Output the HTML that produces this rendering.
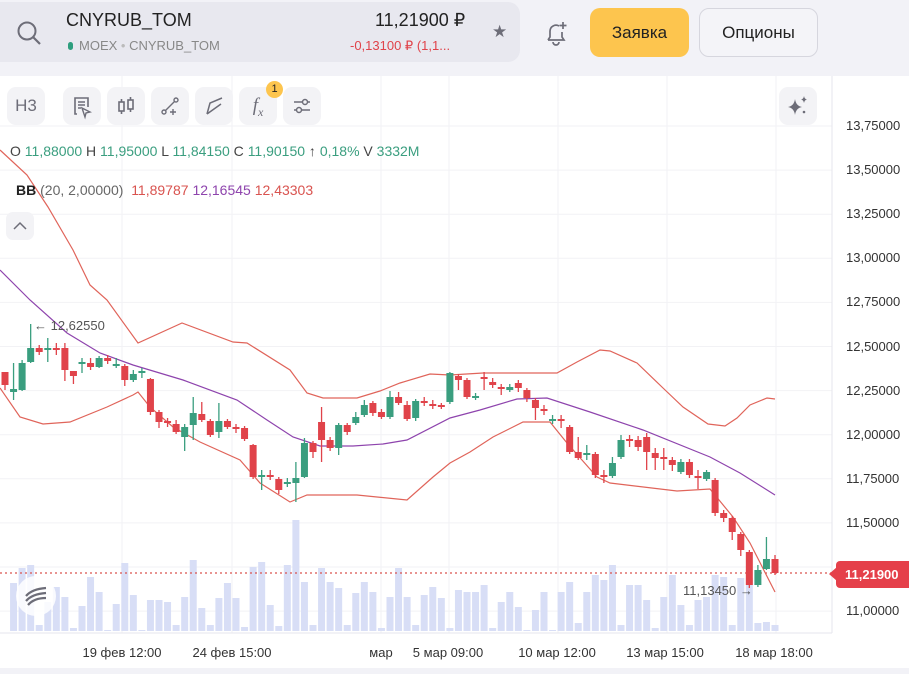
<!DOCTYPE html>
<html><head><meta charset="utf-8"><style>
*{margin:0;padding:0;box-sizing:border-box}
body{width:909px;height:674px;overflow:hidden;background:#fff;font-family:"Liberation Sans",sans-serif;position:relative}
.top{position:absolute;left:0;top:0;width:909px;height:76px;background:#f2f2f7}
.search{position:absolute;left:0;top:2px;width:520px;height:60px;background:#e8e8ef;border-radius:0 12px 12px 0}
.abs{position:absolute;white-space:nowrap}
.tb{position:absolute;top:87px;width:38px;height:38px;background:#f3f3f6;border-radius:9px;color:#6d6d78;font-size:16px;text-align:center;line-height:38px}
.pl{position:absolute;left:846px;font-size:13px;color:#333;}
.xl{position:absolute;top:645px;font-size:13px;color:#333;transform:translateX(-50%)}
</style></head><body>
<div class="top"></div>
<div class="search"></div>
<svg class="abs" style="left:15px;top:19px" width="28" height="28" viewBox="0 0 28 28"><circle cx="12" cy="12" r="8.5" fill="none" stroke="#6d6d78" stroke-width="2"/><line x1="18" y1="18" x2="25" y2="25" stroke="#6d6d78" stroke-width="2.2"/></svg>
<div class="abs" style="left:66px;top:10px;font-size:18px;color:#222">CNYRUB_TOM</div>
<div class="abs" style="left:68px;top:38px;font-size:13px;color:#888"><span style="display:inline-block;width:5px;height:8px;border-radius:3px;background:#2e9e7e;margin-right:6px"></span>MOEX <span style="color:#bbb">•</span> CNYRUB_TOM</div>
<div class="abs" style="left:375px;top:10px;font-size:18px;color:#222">11,21900 ₽</div>
<div class="abs" style="left:350px;top:38px;font-size:13px;color:#e0434a">-0,13100 ₽ (1,1...</div>
<div class="abs" style="left:492px;top:22px;font-size:17px;color:#6d6d78">★</div>
<svg class="abs" style="left:542px;top:19px" width="28" height="28" viewBox="0 0 28 28"><path d="M6 21 L8 18 V12 A6 6 0 0 1 17 7" fill="none" stroke="#6d6d78" stroke-width="1.7"/><path d="M6 21 H22 L20 18 V13" fill="none" stroke="#6d6d78" stroke-width="1.7"/><path d="M11 23 A3 3 0 0 0 17 23" fill="none" stroke="#6d6d78" stroke-width="1.7"/><path d="M21 3 V10 M17.5 6.5 H24.5" stroke="#6d6d78" stroke-width="1.7"/></svg>
<div class="abs" style="left:590px;top:8px;width:99px;height:49px;background:#fdc54e;border-radius:10px;text-align:center;line-height:49px;font-size:17px;color:#222">Заявка</div>
<div class="abs" style="left:699px;top:8px;width:119px;height:49px;background:#f4f4f8;border:1px solid #d6d6de;border-radius:10px;text-align:center;line-height:47px;font-size:17px;color:#222">Опционы</div>

<svg class="abs" style="left:0;top:76px" width="909" height="598">
<g stroke="#f2f2f5" stroke-width="1">
<line x1="122" y1="0" x2="122" y2="557"/><line x1="232" y1="0" x2="232" y2="557"/><line x1="381" y1="0" x2="381" y2="557"/><line x1="449" y1="0" x2="449" y2="557"/><line x1="558" y1="0" x2="558" y2="557"/><line x1="667" y1="0" x2="667" y2="557"/><line x1="776" y1="0" x2="776" y2="557"/>
<g id="hg"></g>
</g>
<line x1="832" y1="0" x2="832" y2="557" stroke="#e6e6ec"/>
<line x1="0" y1="557" x2="832" y2="557" stroke="#e6e6ec"/>
<rect x="0" y="592" width="909" height="6" fill="#f2f2f7"/>
</svg>
<svg class="abs" id="c" style="left:0;top:0" width="832" height="634"></svg>

<div class="tb" style="left:7px;font-size:17px">Н3</div>
<div class="tb" style="left:63px"><svg width="38" height="38" viewBox="0 0 38 38"><path d="M14 27 H12 V11 H25 V20" fill="none" stroke="#6d6d78" stroke-width="1.6"/><path d="M15 15 H22 M15 18 H22 M15 21 H18" stroke="#6d6d78" stroke-width="1.4"/><path d="M19 21 L27 25 L23 26 L22 30 Z" fill="none" stroke="#6d6d78" stroke-width="1.4"/></svg></div>
<div class="tb" style="left:107px"><svg width="38" height="38" viewBox="0 0 38 38"><rect x="12" y="15" width="5" height="9" fill="none" stroke="#6d6d78" stroke-width="1.6"/><rect x="21" y="13" width="5" height="9" fill="none" stroke="#6d6d78" stroke-width="1.6"/><path d="M14.5 12 V15 M14.5 24 V27 M23.5 10 V13 M23.5 22 V25" stroke="#6d6d78" stroke-width="1.6"/></svg></div>
<div class="tb" style="left:151px"><svg width="38" height="38" viewBox="0 0 38 38"><circle cx="13" cy="25" r="2" fill="none" stroke="#6d6d78" stroke-width="1.4"/><circle cx="25" cy="13" r="2" fill="none" stroke="#6d6d78" stroke-width="1.4"/><path d="M14.5 23.5 L23.5 14.5 M22 22 V28 M19 25 H25" stroke="#6d6d78" stroke-width="1.4"/></svg></div>
<div class="tb" style="left:195px"><svg width="38" height="38" viewBox="0 0 38 38"><path d="M12 27 L15 16 L27 11 M12 27 L26 17" fill="none" stroke="#6d6d78" stroke-width="1.5"/></svg></div>
<div class="tb" style="left:239px;font-style:italic;font-family:'Liberation Serif',serif;font-size:19px">f<sub style="font-size:12px">x</sub></div>
<div class="abs" style="left:266px;top:81px;width:17px;height:17px;border-radius:50%;background:#fdc54e;font-size:11px;text-align:center;line-height:17px;color:#222">1</div>
<div class="tb" style="left:283px"><svg width="38" height="38" viewBox="0 0 38 38"><path d="M11 15 H27 M11 23 H27" stroke="#6d6d78" stroke-width="1.5"/><circle cx="22" cy="15" r="2.5" fill="#f3f3f6" stroke="#6d6d78" stroke-width="1.5"/><circle cx="16" cy="23" r="2.5" fill="#f3f3f6" stroke="#6d6d78" stroke-width="1.5"/></svg></div>
<div class="tb" style="left:779px"><svg width="38" height="38" viewBox="0 0 38 38"><path d="M16 12 Q17 19 23 20 Q17 21 16 28 Q15 21 9 20 Q15 19 16 12Z" fill="#6d6d78"/><path d="M25 9 Q25.5 12 28 12.5 Q25.5 13 25 16 Q24.5 13 22 12.5 Q24.5 12 25 9Z" fill="#6d6d78"/><circle cx="25" cy="25" r="1.3" fill="#6d6d78"/></svg></div>

<div class="abs" style="left:10px;top:143px;font-size:14px;color:#444">O <span style="color:#3a9e7f">11,88000</span> H <span style="color:#3a9e7f">11,95000</span> L <span style="color:#3a9e7f">11,84150</span> C <span style="color:#3a9e7f">11,90150</span> ↑ <span style="color:#3a9e7f">0,18%</span> V <span style="color:#3a9e7f">3332M</span></div>
<div class="abs" style="left:16px;top:182px;font-size:14px;color:#666"><b style="color:#222">BB</b> (20, 2,00000)&nbsp;&nbsp;<span style="color:#d9534f">11,89787</span> <span style="color:#8e44ad">12,16545</span> <span style="color:#d9534f">12,43303</span></div>
<div class="abs" style="left:6px;top:212px;width:28px;height:28px;background:#f3f3f6;border-radius:7px"><svg width="28" height="28"><path d="M8 17 L14 11 L20 17" fill="none" stroke="#6d6d78" stroke-width="1.5"/></svg></div>
<div class="abs" style="left:16px;top:576px;width:40px;height:40px;border-radius:50%;background:rgba(255,255,255,.85)"><svg width="40" height="40"><g stroke="#6d6d78" stroke-width="2.2" fill="none"><path d="M10 20 Q16 13 30 12"/><path d="M10 25 Q16 18 30 17"/><path d="M12 29 Q18 22 30 22"/></g></svg></div>

<div class="abs" style="left:34px;top:318px;font-size:13px;color:#555">← 12,62550</div>
<div class="abs" style="left:683px;top:583px;font-size:13px;color:#555">11,13450 →</div>
<div id="pls"></div>
<div class="abs" style="left:836px;top:561px;width:73px;height:27px;background:#e5404a;border-radius:4px 0 0 4px;color:#fff;font-size:13px;font-weight:bold;line-height:27px;padding-left:9px">11,21900</div>
<div class="abs" style="left:829px;top:567px;width:0;height:0;border-top:7px solid transparent;border-bottom:7px solid transparent;border-right:8px solid #e5404a"></div>

<div class="xl" style="left:122px">19 фев 12:00</div>
<div class="xl" style="left:232px">24 фев 15:00</div>
<div class="xl" style="left:381px">мар</div>
<div class="xl" style="left:448px">5 мар 09:00</div>
<div class="xl" style="left:557px">10 мар 12:00</div>
<div class="xl" style="left:665px">13 мар 15:00</div>
<div class="xl" style="left:774px">18 мар 18:00</div>

<script>
var NS="http://www.w3.org/2000/svg";
function el(p,t,a){var e=document.createElementNS(NS,t);for(var k in a)e.setAttribute(k,a[k]);p.appendChild(e);return e;}
var pls=document.getElementById('pls'),hg=document.getElementById('hg');
var labs=["13,75000","13,50000","13,25000","13,00000","12,75000","12,50000","12,25000","12,00000","11,75000","11,50000","11,25000","11,00000"];
for(var i=0;i<labs.length;i++){var y=126+i*44.1;if(i!=10){var d=document.createElement('div');d.className='pl';d.style.top=(y-8)+'px';d.textContent=labs[i];pls.appendChild(d);}
el(hg,'line',{x1:0,y1:y-76,x2:832,y2:y-76});}
var c=document.getElementById('c');
var vt=[631,583,568,565,625,602,587,597,628,606,577,592,630,604,563,595,630,600,600,602,625,597,560,608,625,598,583,598,627,567,562,605,626,565,520,582,625,568,582,588,625,593,582,592,628,597,568,597,625,595,587,598,628,590,592,592,585,628,602,592,607,630,610,592,630,592,582,623,592,575,580,565,625,585,585,600,628,597,575,605,625,600,597,575,577,625,578,578,623,622,625];
var C=[[372,385,'r',372,390],[389,392,'g',363,400],[363,390,'g',360,391],[348,362,'g',324,363],[348,352,'r',345,355],[348,350,'g',338,362],[348,350,'r',343,355],[348,370,'r',343,381],[371,376,'r',371,384],[362,364,'g',358,373],[363,367,'r',358,370],[358,367,'g',356,368],[358,361,'r',355,364],[364,366,'g',358,368],[366,380,'r',364,386],[374,380,'g',370,382],[371,373,'g',368,378],[379,412,'r',378,415],[412,422,'r',410,428],[421,423,'r',418,427],[424,432,'r',420,434],[427,437,'g',424,451],[413,425,'g',397,440],[414,420,'r',402,422],[421,435,'r',419,437],[421,432,'g',403,438],[421,427,'r',419,429],[427,429,'r',424,433],[428,439,'r',426,441],[445,477,'r',444,479],[475,477,'g',470,490],[475,477,'r',470,480],[479,490,'r',477,494],[482,484,'g',478,487],[478,483,'g',462,502],[443,477,'g',438,478],[443,452,'r',441,458],[422,440,'r',407,462],[440,448,'r',437,451],[425,448,'g',423,455],[425,432,'r',423,435],[417,423,'g',412,425],[405,415,'g',400,417],[403,413,'r',401,416],[412,417,'r',409,419],[397,417,'g',391,419],[397,403,'r',392,405],[405,419,'r',401,421],[401,418,'g',399,421],[401,403,'r',397,406],[404,406,'r',400,409],[405,407,'r',403,409],[373,402,'g',372,404],[376,380,'r',374,390],[380,397,'r',378,399],[396,398,'g',393,400],[377,379,'r',372,390],[382,385,'r',378,388],[387,389,'r',384,395],[387,390,'g',384,392],[383,388,'r',380,392],[390,398,'r',388,402],[400,408,'r',398,420],[409,411,'r',405,415],[419,421,'g',415,424],[419,421,'r',415,428],[427,452,'r',425,454],[452,458,'r',437,460],[453,455,'g',445,460],[454,475,'r',452,478],[475,477,'r',470,483],[463,476,'g',457,478],[440,457,'g',435,459],[439,441,'r',435,447],[440,447,'r',436,451],[437,452,'r',433,470],[453,458,'r',448,470],[457,459,'r',448,470],[460,465,'r',457,471],[462,472,'g',459,474],[462,475,'r',459,478],[476,478,'r',470,489],[472,479,'g',470,481],[480,513,'r',478,516],[513,518,'r',510,522],[518,532,'r',516,540],[534,550,'r',532,556],[552,585,'r',550,588],[570,585,'g',565,587],[559,569,'g',537,570],[559,573,'r',555,575]];
var n=C.length,dx=(775-5)/(n-1);
var vg=el(c,'g',{fill:'#d8def6'});
for(i=0;i<n;i++){var x=5+i*dx;var t=vt[i%vt.length];el(vg,'rect',{x:x-3.5,y:t,width:7,height:631-t});}
el(c,'line',{x1:0,y1:573,x2:832,y2:573,stroke:'#d9534f','stroke-width':1.2,'stroke-dasharray':'2 3'});
function pl(pts,col){el(c,'polyline',{points:pts,fill:'none',stroke:col,'stroke-width':1.2});}
pl("0,150 27,175 48,207 73,250 90,285 107,300 138,343 182,323 233,342 247,343 290,370 307,393 323,398 357,398 380,391 400,383 430,374 450,375 483,373 557,373 577,362 600,350 610,351 637,363 663,388 683,407 708,424 725,426 737,418 750,405 767,398 775,399",'#e0645a');
pl("0,270 30,300 67,333 100,353 133,365 183,380 237,400 267,420 293,437 320,446 353,446 383,444 407,440 450,418 480,410 517,399 547,398 590,412 643,430 710,457 740,473 775,495",'#8e44ad');
pl("0,388 20,417 43,424 70,422 107,407 133,395 138,392 150,407 173,427 200,442 240,460 260,483 290,502 307,495 357,495 407,500 433,477 450,463 470,452 493,437 523,422 550,422 567,443 597,477 610,483 677,491 710,489 733,517 750,543 775,592",'#e0645a');
for(i=0;i<n;i++){var x=5+i*dx,a=C[i],col=a[2]=='g'?'#3a9e7f':'#e0434a';
el(c,'line',{x1:x,y1:a[3],x2:x,y2:a[4],stroke:col,'stroke-width':1.3});
var h=Math.max(a[1]-a[0],1.5);el(c,'rect',{x:x-3.5,y:a[0],width:7,height:h,fill:col});}
</script>
</body></html>
